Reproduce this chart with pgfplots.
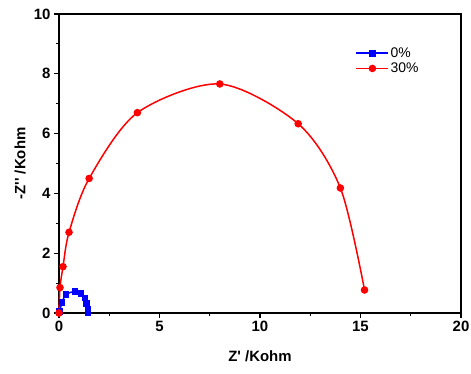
\documentclass[border=0pt]{standalone}
\usepackage{pgfplots}
\pgfplotsset{compat=1.18}
\usepackage{fontspec}
\setmainfont{Liberation Sans}
\begin{document}
\begin{tikzpicture}[x=1bp,y=1bp]
\begin{axis}[
  name=ax,
  scale only axis,
  width=402bp, height=299bp,
  xmin=0, xmax=20, ymin=0, ymax=10,
  xtick={0,5,10,15,20}, ytick={0,2,4,6,8,10},
  minor x tick num=1, minor y tick num=1,
  tick align=outside,
  xtick pos=bottom, ytick pos=left,
  major tick length=5bp, minor tick length=3bp,
  axis line style={line width=1.3bp},
  every tick/.style={black, line width=1.1bp},
  /pgf/number format/assume math mode=true,
  tick label style={font=\fontsize{15}{17}\selectfont\bfseries},
  xlabel={Z\textquotesingle{} /Kohm}, ylabel={-Z\textquotesingle\textquotesingle{} /Kohm},
  every axis x label/.style={at={(axis description cs:0.5,-0.144)}, anchor=center, font=\fontsize{15}{17}\selectfont\bfseries},
  every axis y label/.style={at={(axis description cs:-0.097,0.5)}, rotate=90, anchor=center, font=\fontsize{15}{17}\selectfont\bfseries},
  legend style={draw=none, fill=none, at={(0.73,0.9)}, anchor=north west, font=\fontsize{14}{16}\selectfont, row sep=1bp},
  legend cell align=left,
  every axis legend/.append style={nodes={inner sep=1.5bp}},
  legend image code/.code={\draw[#1] (0bp,0bp) -- (32bp,0bp); \draw[#1, only marks] plot coordinates {(16bp,0bp)};},
  clip=false,
]
\addplot[blue, line width=1.5bp, smooth, mark=square*, mark size=2.6bp, mark options={solid}] coordinates {
 (0.03,0.05) (0.15,0.35) (0.35,0.62) (0.8,0.72) (1.1,0.66) (1.3,0.5) (1.38,0.32) (1.45,0.12) (1.45,0.0)
};
\addlegendentry{0\%}
\addplot[red, line width=1.5bp, smooth, mark=*, mark size=3bp] coordinates {
 (0.0,0.0) (0.05,0.85) (0.2,1.55) (0.5,2.7) (1.5,4.5) (3.9,6.7) (8.0,7.66) (11.9,6.33) (14.0,4.18) (15.2,0.77)
};
\addlegendentry{30\%}
\end{axis}
\pgfresetboundingbox
\useasboundingbox ([shift={(-59bp,-61bp)}]ax.south west) rectangle ([shift={(10bp,14bp)}]ax.north east);
\end{tikzpicture}
\end{document}
